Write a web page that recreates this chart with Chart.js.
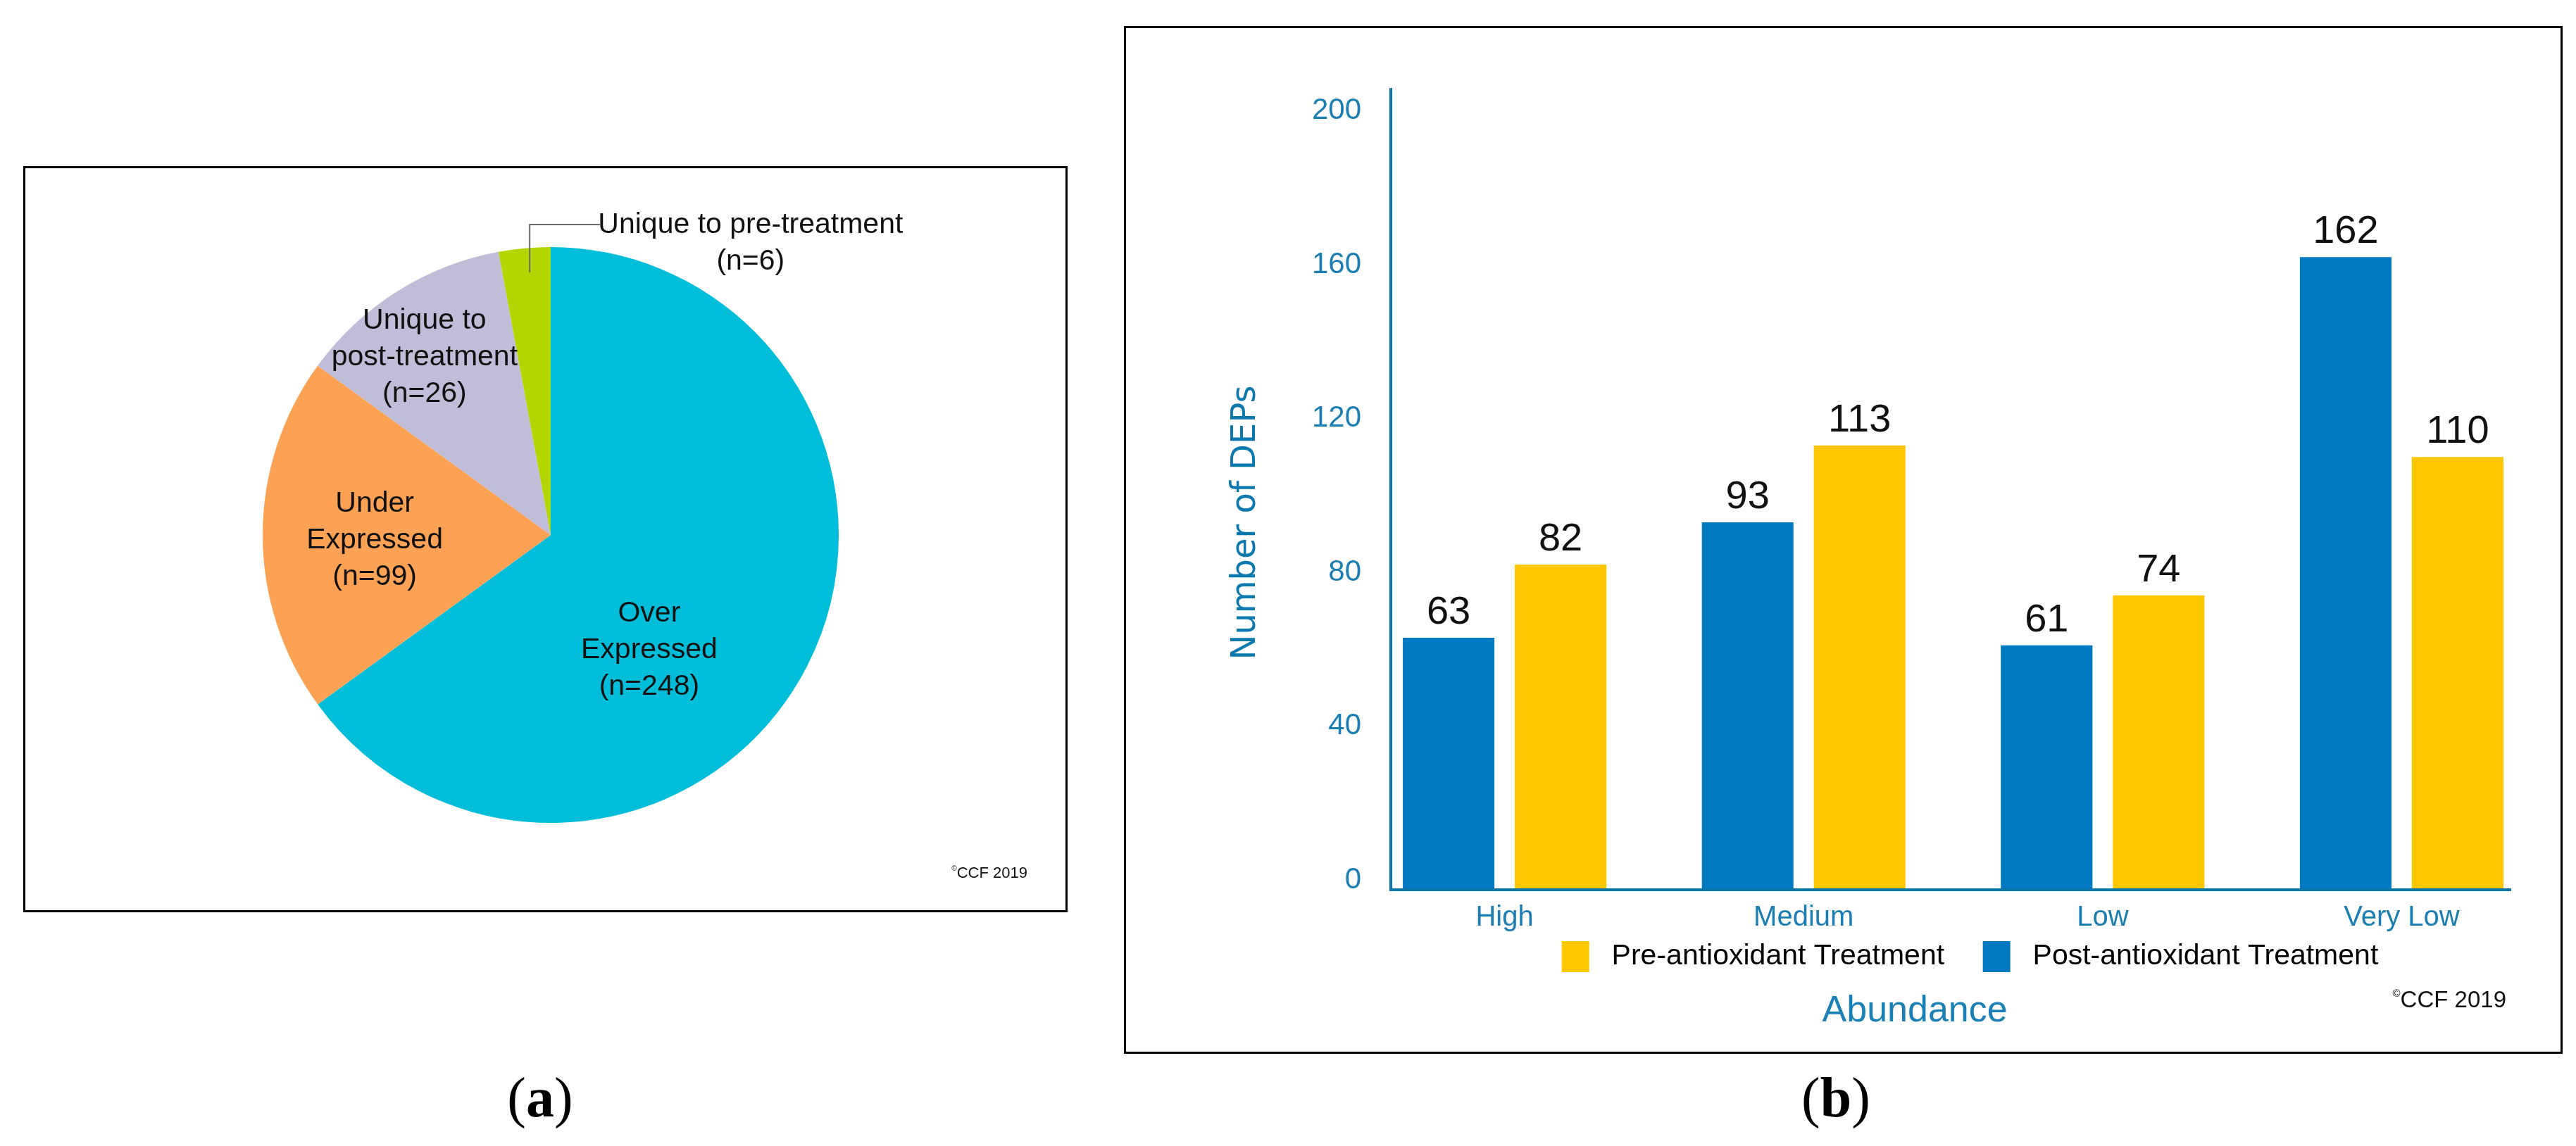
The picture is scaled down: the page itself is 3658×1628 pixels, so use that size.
<!DOCTYPE html>
<html lang="en">
<head>
  <meta charset="UTF-8" />
  <title>DEPs before and after antioxidant treatment</title>
  <script src="https://cdn.jsdelivr.net/npm/chart.js"></script>
  <style>
    html, body {
      margin: 0;
      padding: 0;
      background: #fff;
    }
    body {
      position: relative;
      width: 3658px;
      height: 1628px;
      overflow: hidden;
    }
    .frame {
      position: absolute;
      border: 3px solid #000;
      box-sizing: border-box;
    }
    #frameA { left: 33px; top: 236px; width: 1483px; height: 1060px; }
    #frameB { left: 1596px; top: 37px; width: 2043px; height: 1460px; }
    canvas { position: absolute; }
    #pie { left: 36px; top: 239px; }
    #bars { left: 1599px; top: 40px; }
    .panel {
      position: absolute;
      top: 1519px;
      transform: translateX(-50%);
      font-family: 'Liberation Serif', 'Times New Roman', serif;
      font-size: 80px;
      line-height: 80px;
      color: #000;
    }
  </style>
</head>
<body>
  <div class="frame" id="frameA"></div>
  <div class="frame" id="frameB"></div>
  <canvas id="pie" width="1476" height="1053"></canvas>
  <canvas id="bars" width="2397" height="1454"></canvas>
  <div class="panel" style="left:767px">(<b>a</b>)</div>
  <div class="panel" style="left:2607px">(<b>b</b>)</div>

  <script>
    // (a) pie: slice sizes as measured on the drawing (%), counts as printed
    const groupLines = [['Over', 'Expressed'], ['Under', 'Expressed'], ['Unique to', 'post-treatment'], ['Unique to pre-treatment']];
    const counts = [248, 99, 26, 6];
    const shares = [65.0, 20.0, 12.1, 2.9];

    // (b) bars
    const categories = ['High', 'Medium', 'Low', 'Very Low'];
    const post = [63, 93, 61, 162];
    const pre = [82, 113, 74, 110];
    const yTicks = [0, 40, 80, 120, 160, 200];

    const SANS = '"Liberation Sans", Arial, sans-serif';
    const AXIS = '#0A77A8';
    const AXIS_TXT = '#1A7EB2';
    const NBSP = '\u00A0';

    function drawCCF(ctx, right, mid, size) {
      ctx.save();
      ctx.fillStyle = '#111';
      ctx.textBaseline = 'middle';
      ctx.textAlign = 'right';
      ctx.font = size + 'px ' + SANS;
      ctx.fillText('CCF 2019', right, mid);
      const w = ctx.measureText('CCF 2019').width;
      ctx.font = Math.round(size * 0.45) + 'px ' + SANS;
      ctx.fillText('\u00A9', right - w, mid - size * 0.3);
      ctx.restore();
    }

    // label centres in units of the pie radius, measured from the pie centre
    const labelSpot = [[0.342, 0.401], [-0.611, 0.020], [-0.438, -0.616], [0.694, -1.012]];
    const leader = [[-0.073, -0.912], [-0.073, -1.078], [0.171, -1.078]];

    const pieText = {
      id: 'pieText',
      afterDatasetsDraw(chart) {
        const ctx = chart.ctx;
        const arc = chart.getDatasetMeta(0).data[0];
        const cx = arc.x, cy = arc.y, r = arc.outerRadius;
        const gap = 52;
        ctx.save();
        ctx.font = '41px ' + SANS;
        ctx.fillStyle = '#111';
        ctx.textAlign = 'center';
        ctx.textBaseline = 'middle';
        groupLines.forEach((g, i) => {
          const lines = g.concat('(n=' + counts[i] + ')');
          const x = cx + labelSpot[i][0] * r;
          const y0 = cy + labelSpot[i][1] * r - (lines.length - 1) * gap / 2;
          lines.forEach((t, k) => ctx.fillText(t, x, y0 + k * gap));
        });
        ctx.strokeStyle = '#6b6b6b';
        ctx.lineWidth = 2;
        ctx.beginPath();
        leader.forEach((p, k) => {
          const x = cx + p[0] * r, y = cy + p[1] * r;
          k ? ctx.lineTo(x, y) : ctx.moveTo(x, y);
        });
        ctx.stroke();
        ctx.restore();
        drawCCF(ctx, 1423, 1002, 22);
      }
    };

    new Chart(document.getElementById('pie'), {
      type: 'pie',
      data: {
        labels: groupLines.map(g => g.join(' ')),
        datasets: [{
          data: shares,
          backgroundColor: ['#00BEDA', '#FDA254', '#BFBDD7', '#B3D600'],
          borderWidth: 0,
          hoverOffset: 0
        }]
      },
      options: {
        responsive: false,
        animation: false,
        events: [],
        layout: { padding: { left: 337, right: 321, top: 112, bottom: 123 } },
        plugins: { legend: { display: false }, tooltip: { enabled: false } }
      },
      plugins: [pieText]
    });

    const barText = {
      id: 'barText',
      afterDraw(chart) {
        const { ctx, chartArea: a } = chart;
        ctx.save();
        ctx.fillStyle = '#111';
        ctx.textAlign = 'center';
        ctx.textBaseline = 'alphabetic';
        ctx.font = '56px ' + SANS;
        [post, pre].forEach((vals, d) => {
          chart.getDatasetMeta(d).data.forEach((bar, i) => ctx.fillText(String(vals[i]), bar.x, bar.y - 20));
        });

        ctx.textBaseline = 'middle';
        ctx.fillStyle = '#1A80B6';
        ctx.font = '52px ' + SANS;
        ctx.fillText('Abundance', a.left + 0.468 * (a.right - a.left), a.bottom + 173);

        ctx.translate(a.left - 205, (a.top + a.bottom) / 2 + 47);
        ctx.rotate(-Math.PI / 2);
        ctx.fillStyle = '#0B79AD';
        ctx.font = '48px "DejaVu Sans", Verdana, sans-serif';
        ctx.fillText('Number of DEPs', 0, 0);
        ctx.restore();

        drawCCF(ctx, a.right - 6, a.bottom + 158, 33);
      }
    };

    new Chart(document.getElementById('bars'), {
      type: 'bar',
      data: {
        datasets: [
          {
            label: 'Post-antioxidant Treatment',
            data: post.map((v, i) => ({ x: i, y: v })),
            backgroundColor: '#0079C2',
            base: -2.56
          },
          {
            label: 'Pre-antioxidant Treatment',
            data: pre.map((v, i) => ({ x: i, y: v })),
            backgroundColor: '#FFC700',
            base: -2.56
          }
        ]
      },
      options: {
        responsive: false,
        animation: false,
        events: [],
        categoryPercentage: 0.749,
        barPercentage: 0.818,
        borderWidth: 0,
        layout: { padding: { left: 0, right: 0, top: 87, bottom: 103 } },
        scales: {
          x: {
            type: 'linear',
            min: -0.3806,
            max: 3.364,
            bounds: 'data',
            offset: false,
            afterBuildTicks: s => { s.ticks = categories.map((c, i) => ({ value: i })); },
            afterFit: s => { s.height = 64; },
            grid: { display: false, drawTicks: false },
            border: { display: true, color: AXIS, width: 4, z: 1 },
            ticks: {
              color: AXIS_TXT,
              padding: 16,
              autoSkip: false,
              maxRotation: 0,
              font: { family: SANS, size: 40 },
              callback: v => categories[v]
            }
          },
          y: {
            min: -2.56,
            max: 205.6,
            bounds: 'data',
            afterBuildTicks: s => { s.ticks = yTicks.map(v => ({ value: v })); },
            afterFit: s => { s.width = 376; },
            grid: { display: false, drawTicks: false },
            border: { display: true, color: AXIS, width: 4 },
            ticks: { color: AXIS_TXT, padding: 42, font: { family: SANS, size: 42 } }
          },
          // empty spacer on the right so the full-width legend centres where the original's does
          spacer: {
            type: 'linear',
            position: 'right',
            afterFit: s => { s.width = 431; },
            grid: { display: false, drawTicks: false },
            border: { display: false },
            ticks: { display: false }
          }
        },
        plugins: {
          tooltip: { enabled: false },
          legend: {
            position: 'bottom',
            reverse: true,
            labels: {
              boxWidth: 39,
              boxHeight: 44,
              padding: 9,
              color: '#000',
              font: { family: SANS, size: 41 },
              // padding also sets the vertical offset, so the wider gaps are made with spaces
              generateLabels: chart => Chart.defaults.plugins.legend.labels.generateLabels(chart).map(item => {
                item.text = NBSP + item.text + (item.datasetIndex === 1 ? NBSP.repeat(4) : '');
                return item;
              })
            }
          }
        }
      },
      plugins: [barText]
    });
  </script>
</body>
</html>
